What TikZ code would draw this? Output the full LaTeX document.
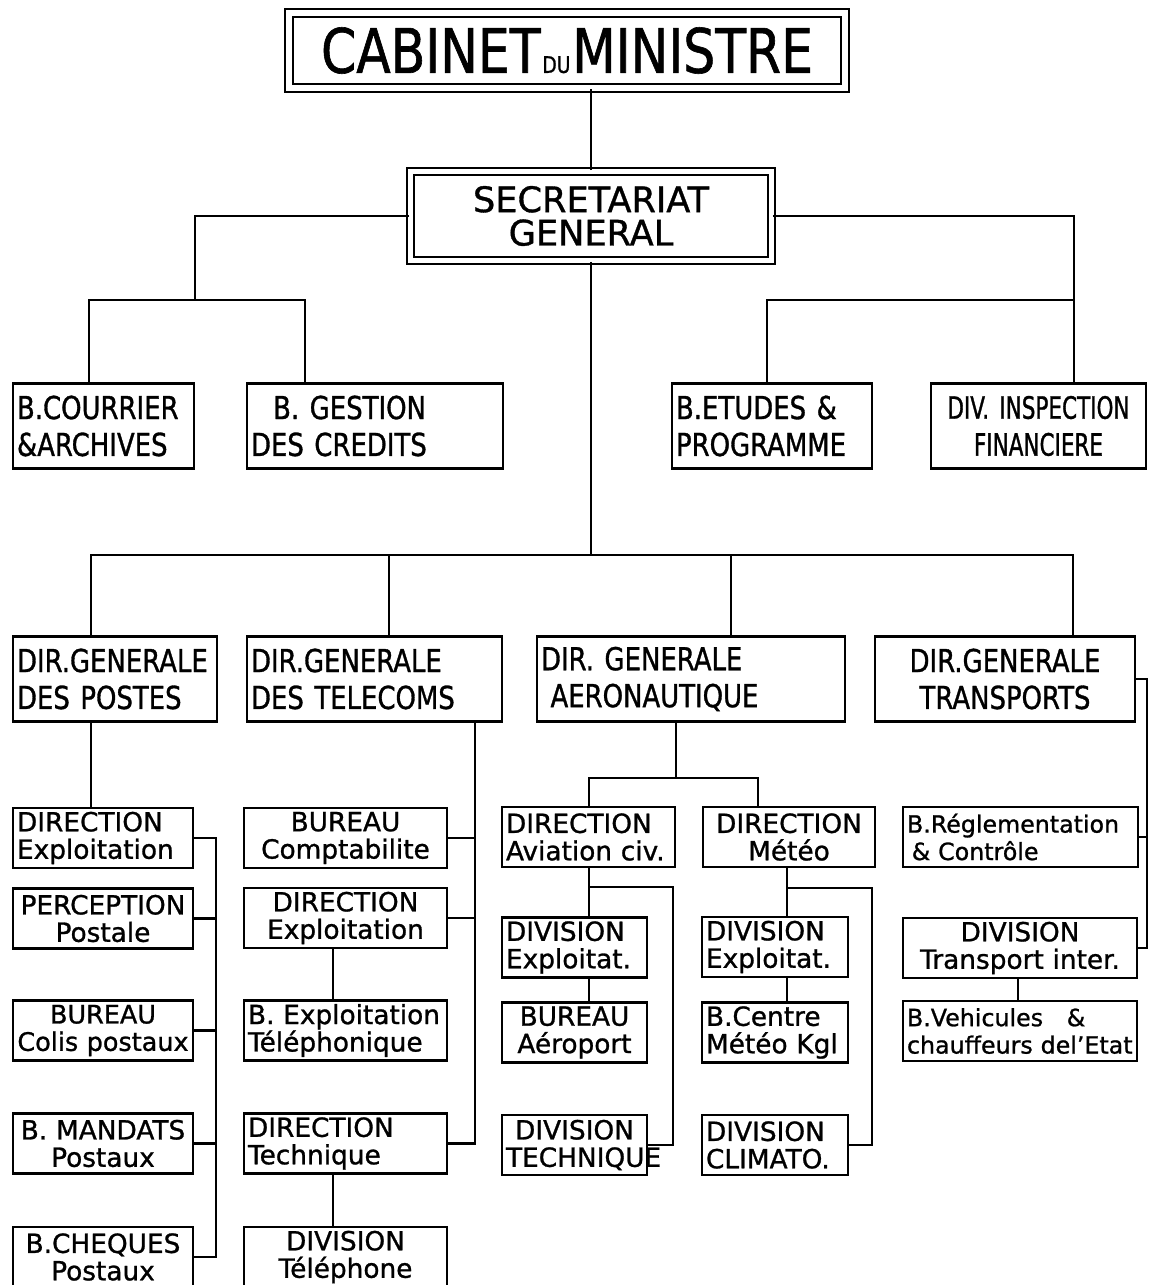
\documentclass[tikz,border=0pt]{standalone}
\usepackage{fontspec}
\setmainfont{DejaVu Sans}[FakeBold=1]
\newfontfamily\capsfont{DejaVu Sans}[FakeStretch=0.82, FakeBold=1]
\newfontfamily\narrowfont{DejaVu Sans}[FakeStretch=0.7, FakeBold=1]
\usepackage{tikz}

\tikzset{
  box/.style={draw, line width=1.3pt, inner xsep=0.08cm, inner ysep=0pt},
  head/.style={box, minimum height=1.7cm, font=\capsfont\fontsize{18}{21}\selectfont},
  unit/.style={box, minimum height=1.2cm, font=\fontsize{15}{15.6}\selectfont},
  link/.style={line width=1.4pt},
}

\begin{document}
\begin{tikzpicture}[x=0.02cm, y=-0.02cm]
\fill[white] (0,0) rectangle (1149,1285);
\useasboundingbox (0,0) rectangle (1149,1285);

            \begin{scope}
                \node[draw, double, double distance=0.12cm, line width=0.045cm, inner sep=0pt,
                      minimum width=11.12cm, minimum height=1.5cm,
                      font=\capsfont\fontsize{35}{40}\selectfont] (cab) at (567,50.5)
                      {CABINET\kern1pt{\fontsize{13}{13}\selectfont DU}\kern1pt MINISTRE};
                \node[draw, double, double distance=0.1cm, line width=0.04cm, inner sep=0pt,
                      minimum width=7.24cm, minimum height=1.8cm, align=center,
                      font=\fontsize{20}{19}\selectfont] (sec) at (591,216) {SECRETARIAT\\GENERAL};

                \node[head, text width=3.46cm, align=left] (courrier) at (103.5,426) {B.COURRIER\\\&ARCHIVES};
                \node[head, text width=4.96cm, align=left] (gestion) at (375,426) {\hspace*{0.7em}B.\ GESTION\\DES CREDITS};
                \node[head, text width=3.84cm, align=left] (etudes) at (772,426) {B.ETUDES \&\\PROGRAMME};
                \node[head, text width=4.14cm, align=center, font=\narrowfont\fontsize{17.5}{21}\selectfont] (inspection) at (1038.5,426) {DIV. INSPECTION\\FINANCIERE};

                \node[head, text width=3.92cm, align=left] (postes) at (115,679) {DIR.GENERALE\\DES POSTES};
                \node[head, text width=4.94cm, align=left] (telecoms) at (374.5,679) {DIR.GENERALE\\DES TELECOMS};
                \node[head, text width=6.0cm, align=left] (aero) at (691,679) {DIR. GENERALE\\\hspace*{0.3em}AERONAUTIQUE};
                \node[head, text width=5.04cm, align=center] (transport) at (1005,679) {DIR.GENERALE\\TRANSPORTS};

                \node[unit, text width=3.44cm, align=left] (dirExplP) at (103,838) {DIRECTION\\Exploitation};
                \node[unit, text width=3.44cm, align=center] (perception) at (103,918.5) {PERCEPTION\\Postale};
                \node[unit, text width=3.52cm, inner xsep=0.04cm, align=center, font=\fontsize{14.5}{15.6}\selectfont] (colis) at (103,1030.5) {BUREAU\\Colis~postaux};
                \node[unit, text width=3.44cm, align=center] (mandats) at (103,1143.5) {B. MANDATS\\Postaux};
                \node[unit, text width=3.44cm, align=center] (cheques) at (103,1257) {B.CHEQUES\\Postaux};

                \node[unit, text width=3.90cm, align=center] (comptab) at (345.5,838) {BUREAU\\Comptabilite};
                \node[unit, text width=3.90cm, align=center] (dirExplT) at (345.5,918) {DIRECTION\\Exploitation};
                \node[unit, text width=3.90cm, align=left] (bExplTel) at (345.5,1030.5) {B. Exploitation\\Téléphonique};
                \node[unit, text width=3.90cm, align=left] (dirTech) at (345.5,1143.5) {DIRECTION\\Technique};
                \node[unit, text width=3.90cm, align=center] (divTel) at (345.5,1257) {DIVISION\\Téléphone};

                \node[unit, text width=3.30cm, align=left] (dirAviation) at (588.5,837) {DIRECTION\\Aviation civ.};
                \node[unit, text width=2.74cm, align=left] (divExplA) at (574.5,947.5) {DIVISION\\Exploitat.};
                \node[unit, text width=2.74cm, align=center] (bureauAero) at (574.5,1032.5) {BUREAU\\Aéroport};
                \node[unit, text width=2.74cm, align=center] (divTechA) at (574.5,1145) {DIVISION\\TECHNIQUE};

                \node[unit, text width=3.28cm, align=center] (dirMeteo) at (789,837) {DIRECTION\\Météo};
                \node[unit, text width=2.76cm, align=left] (divExplM) at (775,947) {DIVISION\\Exploitat.};
                \node[unit, text width=2.76cm, align=left] (bCentre) at (775,1032.5) {B.Centre\\Météo Kgl};
                \node[unit, text width=2.76cm, align=left] (divClimato) at (775,1145) {DIVISION\\CLIMATO.};

                \node[unit, text width=4.54cm, align=left, font=\fontsize{13.5}{15.6}\selectfont] (reglement) at (1020.5,837) {B.Réglementation\\\hspace*{0.2em}\& Contrôle};
                \node[unit, text width=4.52cm, align=center] (divTransp) at (1020,948) {DIVISION\\Transport inter.};
                \node[unit, text width=4.52cm, align=left, font=\fontsize{13.5}{15.6}\selectfont] (bVehic) at (1020,1031) {B.Vehicules\quad\&\\chauffeurs del'Etat};
            \end{scope}

            \begin{scope}[every path/.style={link}]
                \coordinate (gl) at (195,300);
                \coordinate (gr) at (1074,300);
                \coordinate (gm) at (591,555);
                \draw (sec.north) -- (sec.north |- cab.south);
                \draw (sec.west) -| (gl);
                \draw (89,0 |- courrier.north) |- (gl) -| (305,0 |- gestion.north);
                \draw (sec.east) -| (gr);
                \draw (767,0 |- etudes.north) |- (gr) -- (inspection.north -| gr);
                \draw (sec.south) -- (gm);
                \draw (91,0 |- postes.north) |- (gm) -| (1073,0 |- transport.north);
                \draw (389,0 |- telecoms.north) -- (389,0 |- gm);
                \draw (731,0 |- aero.north) -- (731,0 |- gm);

                \coordinate (busP) at (216,838);
                \draw (91,0 |- postes.south) -- (91,0 |- dirExplP.north);
                \draw (dirExplP.east) -| (busP |- cheques.east) -- (cheques.east);
                \foreach \n in {perception,colis,mandats}
                    \draw (\n.east) -- (\n.east -| busP);

                \coordinate (busT) at (475,722);
                \draw (busT |- telecoms.south) |- (dirTech.east);
                \foreach \n in {comptab,dirExplT}
                    \draw (\n.east) -- (\n.east -| busT);
                \draw (333,0 |- dirExplT.south) -- (333,0 |- bExplTel.north);
                \draw (333,0 |- dirTech.south) -- (333,0 |- divTel.north);

                \coordinate (ja) at (676,778);
                \coordinate (ba) at (589,887);
                \coordinate (bm) at (787,888);
                \draw (ja |- aero.south) -- (ja);
                \draw (589,0 |- dirAviation.north) |- (ja) -| (758,0 |- dirMeteo.north);
                \draw (ba |- dirAviation.south) -- (ba |- divExplA.north);
                \draw (ba |- divExplA.south) -- (ba |- bureauAero.north);
                \draw (ba) -| (673,0 |- divTechA.east) -- (divTechA.east);
                \draw (bm |- dirMeteo.south) -- (bm |- divExplM.north);
                \draw (bm |- divExplM.south) -- (bm |- bCentre.north);
                \draw (bm) -| (872,0 |- divClimato.east) -- (divClimato.east);

                \coordinate (bt) at (1147,677);
                \draw (transport.east) -| (bt |- divTransp.east) -- (divTransp.east);
                \draw (reglement.east) -- (reglement.east -| bt);
                \draw (1018,0 |- divTransp.south) -- (1018,0 |- bVehic.north);
            \end{scope}
\end{tikzpicture}
\end{document}
